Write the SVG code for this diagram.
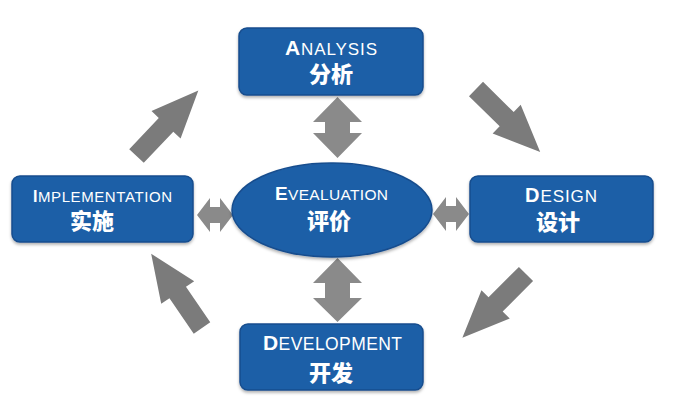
<svg xmlns="http://www.w3.org/2000/svg" width="690" height="417" viewBox="0 0 690 417">
<defs>
<filter id="sh" x="-10%" y="-10%" width="120%" height="130%">
<feDropShadow dx="0" dy="2" stdDeviation="1.5" flood-color="#000" flood-opacity="0.3"/>
</filter>
<path id="bigArrow" d="M0,-10 L43,-10 L43,-20 L90,0 L43,20 L43,10 L0,10 Z"/>
</defs>
<style>
.box{fill:#1f5fa7;stroke:#174d8e;stroke-width:1.5;filter:url(#sh)}
.en{font-family:"Liberation Sans",Arial,sans-serif;fill:#fff;font-size:17px}
.big{font-weight:bold;font-size:21px}
.zh{font-family:"Noto Sans CJK SC",sans-serif;font-weight:900;fill:#fff;font-size:22px;text-anchor:middle}
.arr{fill:#7b7b7b}
.darr{fill:#8a8a8a}
</style>
<rect width="690" height="417" fill="#fff"/>
<g id="connectors">
<use href="#bigArrow" class="arr" transform="translate(136.5,156) rotate(-46.6)"/>
<use href="#bigArrow" class="arr" transform="translate(476,89) rotate(44.5)"/>
<use href="#bigArrow" class="arr" transform="translate(526,274) rotate(135)"/>
<use href="#bigArrow" class="arr" transform="translate(202,328) rotate(-124.4)"/>
<path class="darr" d="M337.5,97 L362,122 L350,122 L350,133 L362,133 L337.5,158 L313,133 L325,133 L325,122 L313,122 Z"/>
<path class="darr" d="M337.5,258 L362,283 L350,283 L350,298 L362,298 L337.5,322 L313,298 L325,298 L325,283 L313,283 Z"/>
<path class="darr" d="M197,215 L210,198 L210,207 L220,207 L220,198 L233,215 L220,232 L220,223 L210,223 L210,232 Z"/>
<path class="darr" d="M433,214 L446,197 L446,206 L456,206 L456,197 L469,214 L456,231 L456,222 L446,222 L446,231 Z"/>
</g>
<g id="analysis">
<rect class="box" x="239" y="28" width="184" height="67" rx="8"/>
<text class="en" x="285" y="55" textLength="92" lengthAdjust="spacing"><tspan class="big">A</tspan>NALYSIS</text>
<text class="zh" x="331" y="82">分析</text>
</g>
<g id="implementation">
<rect class="box" x="12" y="176" width="181" height="66" rx="8"/>
<text class="en" x="33" y="202" textLength="139" lengthAdjust="spacing" style="font-size:15px"><tspan class="big" style="font-size:16px">I</tspan>MPLEMENTATION</text>
<text class="zh" x="92" y="229">实施</text>
</g>
<g id="evaluation">
<ellipse cx="332" cy="210" rx="100" ry="47" fill="#1f5fa7" stroke="#174d8e" stroke-width="1.5" filter="url(#sh)"/>
<text class="en" x="275" y="200" textLength="113" lengthAdjust="spacing" style="font-size:15.5px"><tspan class="big" style="font-size:19px">E</tspan>VEALUATION</text>
<text class="zh" x="329" y="229">评价</text>
</g>
<g id="design">
<rect class="box" x="470" y="176" width="183" height="66" rx="8"/>
<text class="en" x="525" y="202" textLength="72" lengthAdjust="spacing"><tspan class="big" style="font-size:20px">D</tspan>ESIGN</text>
<text class="zh" x="558" y="230">设计</text>
</g>
<g id="development">
<rect class="box" x="240" y="324" width="183" height="66" rx="8"/>
<text class="en" x="263" y="350" textLength="139" lengthAdjust="spacing" style="font-size:17.5px"><tspan class="big">D</tspan>EVELOPMENT</text>
<text class="zh" x="331" y="381">开发</text>
</g>
</svg>
